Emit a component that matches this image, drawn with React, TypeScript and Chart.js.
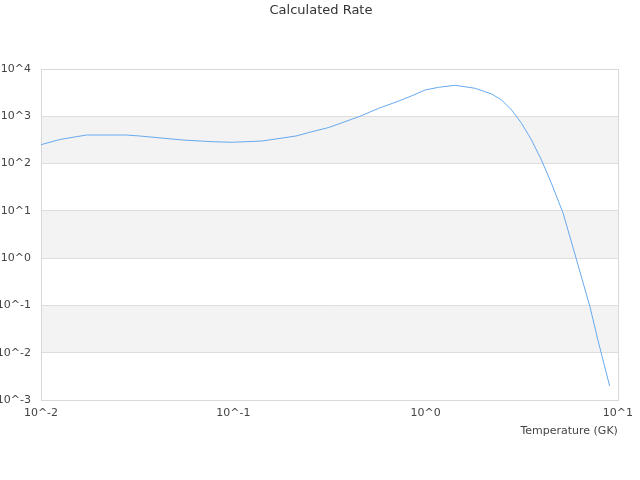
import React, { useEffect, useRef } from "react";
import { Chart, registerables } from "chart.js";

Chart.register(...registerables);

const chartTitle = "Calculated Rate";
const xAxisTitle = "Temperature (GK)";
const temperatures = [0.01, 0.01254, 0.01725, 0.0278, 0.0326, 0.0544, 0.0778, 0.0989, 0.1413, 0.212, 0.2566, 0.314, 0.45, 0.571, 0.724, 0.849, 0.996, 1.168, 1.425, 1.809, 2.206, 2.485, 2.801, 3.155, 3.554, 4.005, 4.511, 5.19, 6.06, 7.16, 7.87, 9.06];
const rates = [251, 323, 402, 402, 383, 315, 290, 282, 300, 383, 472, 580, 980, 1476, 2100, 2720, 3600, 4100, 4520, 3910, 2960, 2210, 1357, 711, 315, 119, 38.3, 8.9, 1.0, 0.093, 0.0186, 0.00198];
const xTickExponents = [-2, -1, 0, 1];
const yTickExponents = [-3, -2, -1, 0, 1, 2, 3, 4];
const shadedDecades = [2, 0, -2];

const FONT = "'DejaVu Sans', sans-serif";

export default function App() {
  const ref = useRef<HTMLCanvasElement | null>(null);
  useEffect(() => {
    if (!ref.current) return;
    const bandPlugin = {
      id: "bands",
      beforeDraw(chart: any) {
        const { ctx, chartArea, scales } = chart;
        ctx.save();
        ctx.fillStyle = "#f3f3f3";
        for (const d of shadedDecades) {
          const y1 = scales.y.getPixelForValue(Math.pow(10, d + 1));
          const y2 = scales.y.getPixelForValue(Math.pow(10, d));
          ctx.fillRect(chartArea.left, y1, chartArea.right - chartArea.left, y2 - y1);
        }
        ctx.restore();
      },
      beforeDatasetsDraw(chart: any) {
        const { ctx, chartArea } = chart;
        ctx.save();
        ctx.strokeStyle = "#d9d9d9";
        ctx.lineWidth = 1;
        ctx.strokeRect(Math.round(chartArea.left) + 0.5, Math.round(chartArea.top) + 0.5, Math.round(chartArea.right - chartArea.left), Math.round(chartArea.bottom - chartArea.top));
        ctx.restore();
      },
      afterDraw(chart: any) {
        const { ctx } = chart;
        ctx.save();
        ctx.fillStyle = "#333333";
        ctx.font = `13px ${FONT}`;
        ctx.textAlign = "center";
        ctx.textBaseline = "middle";
        ctx.fillText(chartTitle, 321, 11);
        ctx.restore();
      },
    };
    const chart = new Chart(ref.current, {
      type: "line",
      data: {
        datasets: [
          {
            data: temperatures.map((t, i) => ({ x: t, y: rates[i] })),
            borderColor: "#66aaf0",
            borderWidth: 1,
            pointRadius: 0,
            tension: 0,
            fill: false,
          },
        ],
      },
      options: {
        animation: false,
        responsive: false,
        devicePixelRatio: 1,
        layout: { padding: { top: 69, right: 20, left: 0, bottom: 0 } },
        plugins: { legend: { display: false }, tooltip: { enabled: false }, title: { display: false } },
        scales: {
          x: {
            type: "logarithmic",
            min: 0.01,
            max: 10,
            afterBuildTicks: (s: any) => {
              s.ticks = xTickExponents.map((e) => ({ value: Math.pow(10, e) }));
            },
            afterFit: (s: any) => {
              s.height = 80;
            },
            grid: { display: false, drawTicks: false },
            border: { display: false },
            ticks: {
              autoSkip: false,
              maxRotation: 0,
              padding: 7,
              color: "#444444",
              font: { family: FONT, size: 11 },
              callback: (v: any) => "10^" + Math.round(Math.log10(Number(v))),
            },
            title: {
              display: true,
              text: xAxisTitle,
              align: "end",
              color: "#444444",
              font: { family: FONT, size: 11 },
              padding: { top: 0, bottom: 42 },
            },
          },
          y: {
            type: "logarithmic",
            min: 0.001,
            max: 10000,
            afterBuildTicks: (s: any) => {
              s.ticks = yTickExponents.map((e) => ({ value: Math.pow(10, e) }));
            },
            afterFit: (s: any) => {
              s.width = 41;
            },
            grid: { color: "#dddddd", drawTicks: false },
            border: { display: true, color: "#d9d9d9" },
            ticks: {
              autoSkip: false,
              padding: 10,
              color: "#444444",
              font: { family: FONT, size: 11 },
              callback: (v: any) => "10^" + Math.round(Math.log10(Number(v))),
            },
          },
        },
      },
      plugins: [bandPlugin],
    });
    return () => chart.destroy();
  }, []);
  return (
    <div style={{ position: "fixed", left: 0, top: 0, width: 640, height: 480, background: "#ffffff" }}>
      <canvas ref={ref} width={640} height={480} />
    </div>
  );
}
